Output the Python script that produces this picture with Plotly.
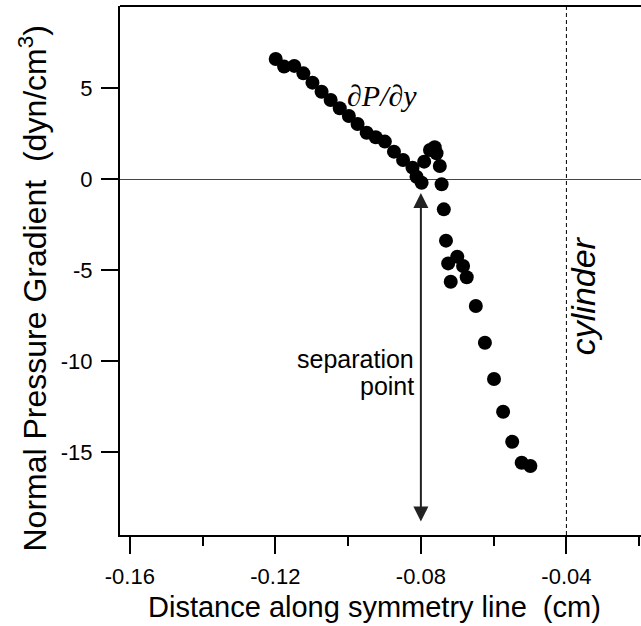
import plotly.graph_objects as go

# Data
x_vals = [-0.1199, -0.1176, -0.1148, -0.1123, -0.1098, -0.1073, -0.1048, -0.1023,
          -0.0998, -0.0974, -0.0949, -0.0924, -0.0899, -0.0874, -0.0849, -0.0823,
          -0.0812, -0.0798, -0.0791, -0.0775, -0.0762, -0.0757, -0.0748, -0.0743,
          -0.0737, -0.0731, -0.0725, -0.0718, -0.0700, -0.0684, -0.0674, -0.0649,
          -0.0624, -0.0599, -0.0574, -0.0549, -0.0523, -0.0499]
y_vals = [6.61, 6.19, 6.23, 5.82, 5.31, 4.81, 4.36, 3.90,
          3.48, 3.04, 2.56, 2.31, 2.07, 1.52, 1.06, 0.64,
          0.14, -0.19, 0.97, 1.61, 1.76, 1.43, 0.73, -0.27,
          -1.65, -3.37, -4.62, -5.63, -4.25, -4.76, -5.38, -6.96,
          -8.98, -10.97, -12.77, -14.42, -15.57, -15.75]

x_major_ticks = [-0.16, -0.12, -0.08, -0.04]
x_major_labels = ["-0.16", "-0.12", "-0.08", "-0.04"]
y_ticks = [5, 0, -5, -10, -15]
y_labels = ["5", "0", "-5", "-10", "-15"]

x_range = [-0.1627, -0.0195]
y_range = [-19.54, 9.52]

cylinder_x = -0.04
separation_x = -0.08
arrow_top_y = -0.75
arrow_bottom_y = -18.94

FONT = "Liberation Sans, Arial, sans-serif"

fig = go.Figure()
fig.add_trace(go.Scatter(
    x=x_vals, y=y_vals, mode="markers",
    marker=dict(size=14, color="black", line=dict(width=0)),
    showlegend=False, hoverinfo="skip"))

fig.update_layout(
    width=641, height=626,
    margin=dict(l=120, r=0, t=6, b=91),
    paper_bgcolor="white", plot_bgcolor="white",
    font=dict(family=FONT, color="black"),
    xaxis=dict(
        range=x_range, showgrid=False, zeroline=False,
        showline=True, linewidth=2, linecolor="black",
        tickmode="array", tickvals=x_major_ticks, ticktext=x_major_labels,
        ticks="outside", ticklen=17, tickwidth=2, tickcolor="black",
        ticklabelstandoff=4,
        tickfont=dict(size=22, family=FONT, color="black"),
        minor=dict(dtick=0.02, tick0=-0.16, ticks="outside", ticklen=9,
                   tickwidth=2, tickcolor="black", showgrid=False),
    ),
    yaxis=dict(
        range=y_range, showgrid=False,
        zeroline=True, zerolinecolor="#444", zerolinewidth=1,
        showline=True, linewidth=2, linecolor="black",
        tickmode="array", tickvals=y_ticks, ticktext=y_labels,
        ticks="outside", ticklen=17, tickwidth=2, tickcolor="black",
        ticklabelstandoff=4,
        tickfont=dict(size=22, family=FONT, color="black"),
    ),
)

# top border
fig.add_shape(type="line", xref="paper", yref="paper", x0=0, x1=1, y0=1, y1=1,
              line=dict(color="black", width=2))
# cylinder dashed line
fig.add_shape(type="line", xref="x", yref="paper", x0=cylinder_x, x1=cylinder_x,
              y0=0, y1=1, line=dict(color="black", width=1, dash="4px,3px"))

# separation arrow
fig.add_annotation(x=separation_x, y=arrow_top_y, ax=separation_x, ay=arrow_bottom_y,
                   xref="x", yref="y", axref="x", ayref="y", text=" ",
                   showarrow=True, arrowhead=2, startarrowhead=2, arrowside="end+start",
                   arrowsize=1.5, arrowwidth=2, arrowcolor="#222",
                   font=dict(size=2))

# axis titles
fig.add_annotation(xref="paper", yref="paper", x=0.5, y=0, yshift=-72, xshift=-6,
                   text="Distance along symmetry line  (cm)", showarrow=False,
                   font=dict(size=29, family=FONT), xanchor="center", yanchor="middle")
fig.add_annotation(xref="paper", yref="paper", x=0, y=0.5, xshift=-88, yshift=-18,
                   text="Normal Pressure Gradient  (dyn/cm<sup>3</sup>)", showarrow=False,
                   textangle=-90, font=dict(size=32, family=FONT),
                   xanchor="center", yanchor="middle")

# labels
fig.add_annotation(x=-0.0907, y=4.63, xref="x", yref="y", text="<i>∂P/∂y</i>",
                   showarrow=False, font=dict(size=30, family="Liberation Serif, Times New Roman, serif"))
fig.add_annotation(x=separation_x, y=-9.85, xref="x", yref="y", text="separation",
                   showarrow=False, xanchor="right", xshift=-5, yanchor="middle",
                   font=dict(size=25, family=FONT))
fig.add_annotation(x=separation_x, y=-11.35, xref="x", yref="y", text="point",
                   showarrow=False, xanchor="right", xshift=-5, yanchor="middle",
                   font=dict(size=25, family=FONT))
fig.add_annotation(x=cylinder_x, y=-6.4, xref="x", yref="y", text="<i>cylinder</i>",
                   showarrow=False, textangle=-90, xshift=16,
                   font=dict(size=34, family=FONT))

fig.write_html("out.html")
